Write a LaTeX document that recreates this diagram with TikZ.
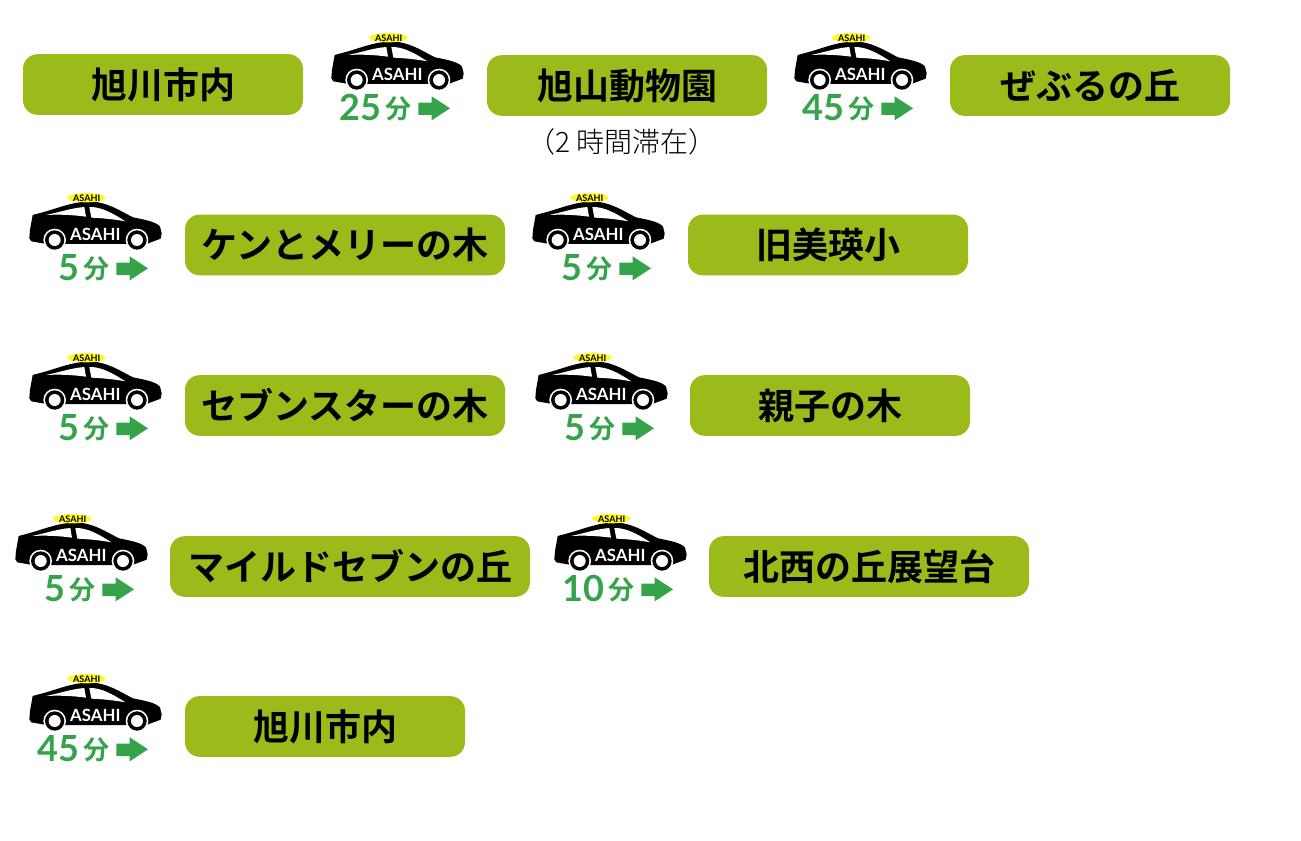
\documentclass[tikz,border=0pt]{standalone}
\usepackage{fontspec}
\setmainfont{Lato}
\newfontfamily\jpbold{Noto Sans CJK JP Bold}
\newfontfamily\jpreg{Noto Sans CJK JP Light}
\usetikzlibrary{positioning}
\definecolor{spotgreen}{HTML}{9BBB1B}
\definecolor{timegreen}{HTML}{35A34A}
\definecolor{lampyellow}{HTML}{FFFA26}
\tikzset{
  spot/.style   = {rectangle, fill=spotgreen, rounded corners=11pt, inner sep=0pt,
                   minimum height=45.5pt, align=center, font=\jpbold\fontsize{27}{30}\selectfont},
  note/.style   = {inner sep=0pt, font=\jpreg\fontsize{21}{24}\selectfont},
  mins/.style   = {text=timegreen, inner sep=0pt, anchor=base east, font=\bfseries\fontsize{27}{30}\selectfont},
  minsjp/.style = {text=timegreen, inner sep=0pt, anchor=base west, font=\jpbold\fontsize{19.5}{20}\selectfont},
  pics/taxi/.style = {code = {
    % body, drawn in units of a third of a pixel from the top left corner
    \begin{scope}[x=0.25pt, y=-0.25pt]
      \fill[black] (34,175) -- (36,150) -- (44,105) -- (70,98) .. controls (110,88) and (165,64) .. (214,65)
        .. controls (265,64) and (305,92) .. (345,112) .. controls (385,120) and (415,126) .. (426,140)
        -- (431,160) -- (428,176) -- (385,192) -- (85,192) -- (40,184) -- cycle;
      \fill[white] (84,105) .. controls (120,98) and (160,84) .. (199,81) -- (204,110) .. controls (160,104) and (120,103) .. (84,105) -- cycle;
      \fill[white] (214,81) .. controls (250,80) and (285,100) .. (322,124) .. controls (290,118) and (250,114) .. (220,113) -- cycle;
      \foreach \wx in {110,357} {
        \fill[white] (\wx,180) circle[radius=34];
        \fill[black] (\wx,180) circle[radius=29];
        \fill[white] (\wx,180) circle[radius=18];
      }
      \fill[lampyellow] (205,53) ellipse[x radius=58, y radius=14];
      \node[inner sep=0pt, font=\bfseries\fontsize{6.8}{7}\selectfont] (-lamp) at (206,54) {ASAHI};
      \node[inner sep=0pt, text=white, font=\bfseries\fontsize{12.6}{13}\selectfont] (-name) at (232,162) {ASAHI};
      \node[mins] (-num) at (184,301) {#1};
      \node[minsjp] (-fun) at (195,296) {分};
      \fill[timegreen] (295,248) -- (335,248) -- (335,229) -- (390,265) -- (335,301) -- (335,285) -- (295,285) -- cycle;
    \end{scope}
  }}
}

\begin{document}
\begin{tikzpicture}[x=0.75pt, y=-0.75pt]
  \useasboundingbox (0,0) rectangle (1301,841);
  % first row
  \node[spot, minimum width=210pt] (asahikawa) at (163,84.5) {旭川市内};
  \pic (taxia) at (320,20) {taxi={25}};
  \node[spot, minimum width=210pt] (zoo) at (627,85.5) {旭山動物園};
  \node[note] (stay) at (622,142) {（2 時間滞在）};
  \pic (taxib) at (783,20) {taxi={45}};
  \node[spot, minimum width=210pt] (zerubu) at (1090,85.5) {ぜぶるの丘};
  % second row
  \pic (taxic) at (18,180) {taxi={5}};
  \node[spot, minimum width=240pt] (kenmary) at (345,245) {ケンとメリーの木};
  \pic (taxid) at (521,180) {taxi={5}};
  \node[spot, minimum width=210pt] (biei) at (828,245) {旧美瑛小};
  % third row
  \pic (taxie) at (18,340) {taxi={5}};
  \node[spot, minimum width=240pt] (seven) at (345,405.5) {セブンスターの木};
  \pic (taxif) at (524,340) {taxi={5}};
  \node[spot, minimum width=210pt] (oyako) at (830,405.5) {親子の木};
  % fourth row
  \pic (taxig) at (4,501) {taxi={5}};
  \node[spot, minimum width=270pt] (mild) at (350,566.5) {マイルドセブンの丘};
  \pic (taxih) at (543,501) {taxi={10}};
  \node[spot, minimum width=240pt] (hokusei) at (869,566.5) {北西の丘展望台};
  % last row
  \pic (taxii) at (18,661) {taxi={45}};
  \node[spot, minimum width=210pt] (back) at (325,726.5) {旭川市内};
\end{tikzpicture}
\end{document}
